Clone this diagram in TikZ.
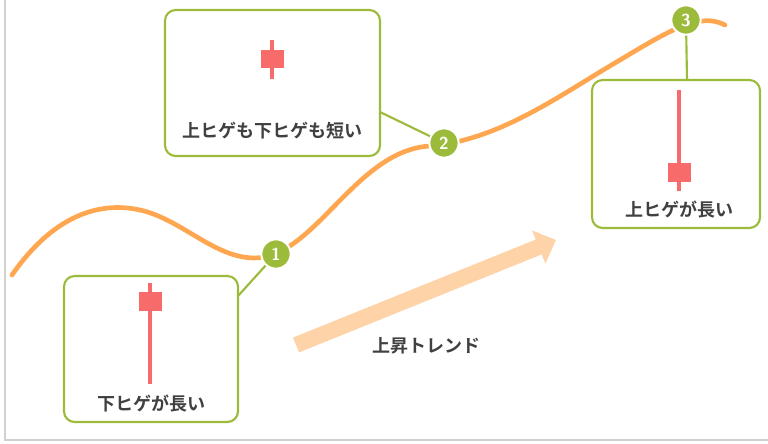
\documentclass[tikz,border=0pt]{standalone}
\usepackage{fontspec}
\newfontfamily\cjk{Noto Sans CJK JP}[BoldFont={Noto Sans CJK JP Bold}]
\usetikzlibrary{arrows.meta}
\definecolor{boxgreen}{HTML}{9DBB3B}
\definecolor{curveorange}{HTML}{FFA650}
\definecolor{candlered}{HTML}{F76B6B}
\definecolor{trendorange}{HTML}{FFD3A8}
\begin{document}
\begin{tikzpicture}[x=0.75pt,y=-0.75pt,
    box/.style={draw=boxgreen,line width=1.6pt,rounded corners=8pt,fill=white},
    label/.style={font=\cjk\bfseries\fontsize{13.5}{15}\selectfont,text=black!75},
    point/.style={circle,fill=boxgreen,draw=white,line width=1.5pt,minimum size=22pt,inner sep=0pt,
      text=white,font=\sffamily\bfseries\fontsize{13}{14}\selectfont},
    wick/.style={candlered,line width=3pt},
    link/.style={boxgreen,line width=1.6pt}]
  \useasboundingbox (0,0) rectangle (768,443);
  % axes
  \draw[black!18,line width=1.5pt] (5,0) -- (5,440) -- (768,440);
  % trend arrow
  \draw[trendorange,line width=12pt,-{Triangle[length=14pt,width=26pt]}] (296,345) -- (556,240);
  \node[label] (trend) at (426,346) {上昇トレンド};
  % price curve
  \draw[curveorange,line width=3.5pt,line cap=round]
    (12,275) .. controls (50,220) and (95,200) .. (140,210)
    .. controls (185,220) and (220,265) .. (265,257)
    .. controls (320,245) and (360,150) .. (430,146)
    .. controls (500,140) and (560,95) .. (620,60)
    .. controls (670,30) and (700,12) .. (725,25);
  % boxes with candles
  \draw[box] (64,276) rectangle (238,422);
  \draw[wick] (150,283) -- (150,384);
  \fill[candlered] (139,292) rectangle (162,311);
  \node[label] (lbA) at (151,404) {下ヒゲが長い};
  \draw[box] (165,10) rectangle (380,156);
  \draw[wick] (272,40) -- (272,79);
  \fill[candlered] (261,50) rectangle (284,68);
  \node[label] (lbB) at (272,131) {上ヒゲも下ヒゲも短い};
  \draw[box] (592,80) rectangle (760,228);
  \draw[wick] (679,90) -- (679,191);
  \fill[candlered] (668,163) rectangle (691,182);
  \node[label] (lbC) at (679,210) {上ヒゲが長い};
  % links
  \coordinate (cA) at (238,296);
  \coordinate (cB) at (380,112);
  \coordinate (cC) at (687,80);
  \node[point] (p1) at (276,254) {1};
  \node[point] (p2) at (444,143) {2};
  \node[point] (p3) at (686,20) {3};
  \draw[link] (p1) -- (cA);
  \draw[link] (p2) -- (cB);
  \draw[link] (p3) -- (cC);
\end{tikzpicture}
\end{document}
